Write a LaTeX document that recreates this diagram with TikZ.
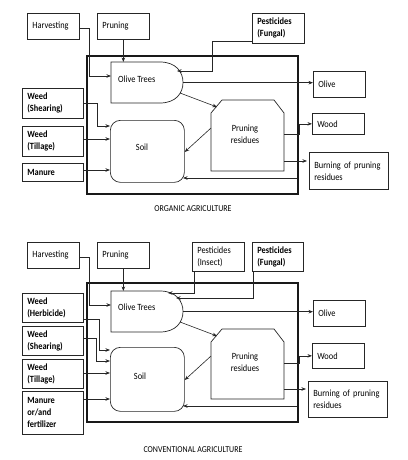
\documentclass[tikz,border=0pt]{standalone}
\usepackage{fontspec}
\setmainfont{Carlito}[FakeStretch=0.88]
\usetikzlibrary{arrows.meta,calc}
\begin{document}
\begin{tikzpicture}[x=1pt,y=-1pt,
  txt/.style={font=\fontsize{9.5}{12}\selectfont, inner sep=0pt},
  box/.style={draw=black!85, line width=0.7pt, anchor=north west, inner xsep=5pt, inner ysep=1pt, align=left, font=\fontsize{9.5}{12}\selectfont},
  bbox/.style={box, font=\fontsize{9.5}{12}\selectfont\bfseries},
  ghost/.style={anchor=north west, inner sep=0pt},
  shp/.style={draw=black!85, line width=0.7pt},
  arr/.style={-{Stealth[length=4.5pt,width=3.5pt]}, line width=0.6pt, draw=black!85},
  frame/.style={draw=black!90, line width=1.4pt},
  title/.style={font=\fontsize{9}{11}\selectfont}
]
\useasboundingbox (0,0) rectangle (407,460);

% ================= ORGANIC =================
\node[box, minimum width=52pt, minimum height=26pt, text width=42pt] (harvA) at (27,13) {Harvesting};
\node[box, minimum width=52pt, minimum height=26pt, text width=42pt] (pruA) at (97,13) {Pruning};
\node[bbox, minimum width=52pt, minimum height=30pt, text width=42pt] (fungA) at (252,13) {Pesticides\\(Fungal)};
\node[bbox, minimum width=61pt, minimum height=30pt, text width=51pt] (shearA) at (22,88) {Weed\\(Shearing)};
\node[bbox, minimum width=61pt, minimum height=30pt, text width=51pt] (tillA) at (22,126) {Weed\\(Tillage)};
\node[bbox, minimum width=61pt, minimum height=18pt, text width=51pt] (manA) at (22,163) {Manure};
\node[box, minimum width=52pt, minimum height=26pt, text width=42pt] (oliveA) at (313,71) {Olive};
\node[box, minimum width=52pt, minimum height=21pt, text width=42pt] (woodA) at (312,113) {Wood};
\node[box, minimum width=79pt, minimum height=37pt, text width=69pt] (burnA) at (309,152) {Burning of pruning\\residues};

\draw[frame] (87,56) rectangle (298,194);

% olive trees shape
\node[ghost, minimum width=72pt, minimum height=41pt] (otA) at (111,62) {};
\draw[shp] (111,62) -- (160,62) .. controls (176,62) and (183,72) .. (183,82.5)
  .. controls (183,93) and (176,103) .. (160,103) -- (111,103) -- cycle;
\node[txt, anchor=west] at (118,79) {Olive Trees};

% soil
\node[draw=black!85, line width=0.7pt, rounded corners=10pt, anchor=north west, minimum width=74pt, minimum height=62pt] (soilA) at (110,120) {};
\node[txt] at (142,147) {Soil};

% pruning residues
\node[ghost, minimum width=73pt, minimum height=71pt] (resA) at (211,100) {};
\draw[shp] (211,113) -- (222,100) -- (274,100) -- (284,113) -- (284,171) -- (211,171) -- cycle;
\node[txt, align=center] at (245,134) {Pruning\\residues};

% connectors
\draw[arr] (harvA.east |- 0,28) -| (89,76) -- (otA.west |- 0,76);
\draw[arr] (pruA.south) -- (pruA.south |- otA.north);
\draw[arr] (fungA.west |- 0,41) -| (212,71) -- (177,71);
\draw[arr] (otA.east) -- (otA.east -| oliveA.west);
\draw[arr] (180,93) -- (217,107);
\draw[arr] (shearA.east) -| (97,126) -- (soilA.west |- 0,126);
\draw[arr] (tillA.east |- 0,139) -- (soilA.west |- 0,139);
\draw[arr] (manA.east |- 0,170) -- (soilA.west |- 0,170);
\draw[arr] (resA.west |- 0,128) -- (soilA.east |- 0,152);
\draw[arr] (resA.east |- 0,134) -- (299,134) |- (woodA.west);
\draw[arr] (resA.east |- 0,161) -- ($(burnA.west |- 0,161)+(-2,0)$);
\draw[arr] (297,178) -- (183,178);

\node[title] at (193,209) {ORGANIC AGRICULTURE};

% ================= CONVENTIONAL =================
\node[box, minimum width=52pt, minimum height=26pt, text width=42pt] (harvB) at (27,242) {Harvesting};
\node[box, minimum width=52pt, minimum height=26pt, text width=42pt] (pruB) at (97,242) {Pruning};
\node[box, minimum width=52pt, minimum height=29pt, text width=42pt] (insB) at (192,242) {Pesticides\\(Insect)};
\node[bbox, minimum width=51pt, minimum height=29pt, text width=41pt] (fungB) at (252,242) {Pesticides\\(Fungal)};
\node[bbox, minimum width=61pt, minimum height=29pt, text width=51pt] (herbB) at (22,293) {Weed\\(Herbicide)};
\node[bbox, minimum width=61pt, minimum height=29pt, text width=51pt] (shearB) at (22,326) {Weed\\(Shearing)};
\node[bbox, minimum width=61pt, minimum height=29pt, text width=51pt] (tillB) at (22,359) {Weed\\(Tillage)};
\node[bbox, minimum width=61pt, minimum height=43pt, text width=51pt] (manB) at (22,391) {Manure\\or/and\\fertilizer};
\node[box, minimum width=52pt, minimum height=26pt, text width=42pt] (oliveB) at (313,300) {Olive};
\node[box, minimum width=52pt, minimum height=25pt, text width=42pt] (woodB) at (312,343) {Wood};
\node[box, minimum width=79pt, minimum height=36pt, text width=69pt] (burnB) at (308,381) {Burning of pruning\\residues};

\draw[frame] (87,283) rectangle (298,422);

\node[ghost, minimum width=72pt, minimum height=41pt] (otB) at (111,291) {};
\draw[shp] (111,291) -- (160,291) .. controls (176,291) and (183,301) .. (183,311.5)
  .. controls (183,322) and (176,332) .. (160,332) -- (111,332) -- cycle;
\node[txt, anchor=west] at (118,307) {Olive Trees};

\node[draw=black!85, line width=0.7pt, rounded corners=10pt, anchor=north west, minimum width=74pt, minimum height=64pt] (soilB) at (110,347) {};
\node[txt] at (140,376) {Soil};

\node[ghost, minimum width=73pt, minimum height=70pt] (resB) at (211,329) {};
\draw[shp] (211,342) -- (222,329) -- (274,329) -- (284,342) -- (284,399) -- (211,399) -- cycle;
\node[txt, align=center] at (245,362) {Pruning\\residues};

\draw[arr] (harvB.east |- 0,257) -| (89,305) -- (otB.west |- 0,305);
\draw[arr] (pruB.south) -- (pruB.south |- otB.north);
\draw[arr] (insB.south west) ++(2,0) -- (194,293) -- (168,293);
\draw[arr] (fungB.south west) ++(1,0) -- (253,298) -- (176,298);
\draw[arr] (otB.east) -- (otB.east -| oliveB.west);
\draw[arr] (180,322) -- (217,336);
\draw[arr] (herbB.east |- 0,319) -| (99,350) -- (soilB.west |- 0,350);
\draw[arr] (shearB.east |- 0,338) -| (96,361) -- (soilB.west |- 0,361);
\draw[arr] (tillB.east |- 0,373) -- (soilB.west |- 0,373);
\draw[arr] (manB.east |- 0,399) -- (soilB.west |- 0,399);
\draw[arr] (resB.west |- 0,356) -- (soilB.east |- 0,380);
\draw[arr] (resB.east |- 0,363) -- (299,363) |- (woodB.west);
\draw[arr] (resB.east |- 0,389) -- ($(burnB.west |- 0,389)+(-2,0)$);
\draw[arr] (297,406) -- (183,406);

\node[title] at (193,450) {CONVENTIONAL AGRICULTURE};
\end{tikzpicture}
\end{document}
